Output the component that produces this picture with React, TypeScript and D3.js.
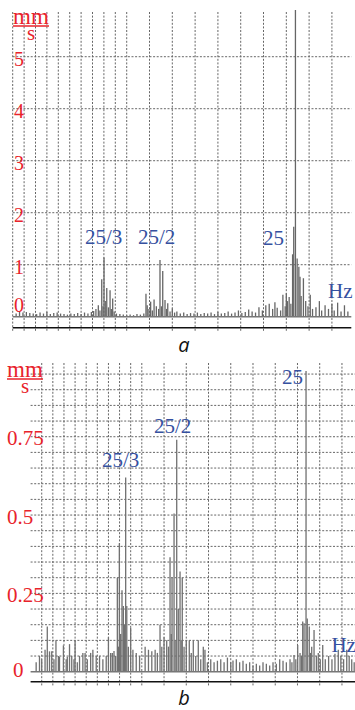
import React, { useEffect, useRef } from "react";
import * as d3 from "d3";

// grid positions in Hz: 1 Hz steps up to 10, then 2 Hz steps
const FINE_GRID = [0, 1, 2, 3, 4, 5, 6, 7, 8, 9, 10];
const COARSE_GRID = [12, 14, 16, 18, 20, 22, 24, 26, 28];

// panel a: amplitude ticks (mm/s)
const A_TICKS = [0, 1, 2, 3, 4, 5];
const A_TICK_LABELS = ["0", "1", "2", "3", "4", "5"];

// panel a spectrum: [Hz, mm/s]
const A_SPECTRUM: [number, number][] = [
  [0.3, 0.06], [0.6, 0.1], [0.9, 0.08], [1.2, 0.09], [1.5, 0.07], [1.8, 0.06],
  [2.1, 0.05], [2.4, 0.08], [2.7, 0.06], [3.0, 0.09], [3.3, 0.05], [3.6, 0.07],
  [3.9, 0.08], [4.2, 0.06], [4.5, 0.05], [4.8, 0.04], [5.1, 0.06], [5.4, 0.05],
  [5.7, 0.07], [6.0, 0.05], [6.3, 0.08], [6.6, 0.06], [6.9, 0.09], [7.1, 0.11],
  [7.3, 0.15], [7.51, 0.22], [7.65, 0.12], [7.81, 0.72], [7.92, 0.2], [8.01, 1.14],
  [8.12, 0.3], [8.25, 0.55], [8.4, 0.18], [8.54, 0.51], [8.65, 0.15], [8.77, 0.35],
  [8.9, 0.1], [9.1, 0.06], [9.4, 0.05], [9.7, 0.04], [10.0, 0.03], [10.3, 0.04],
  [10.6, 0.03], [10.9, 0.05], [11.2, 0.04], [11.5, 0.06], [11.69, 0.44], [11.8, 0.22],
  [11.95, 0.15], [12.1, 0.29], [12.25, 0.12], [12.4, 0.33], [12.6, 0.2], [12.8, 0.15],
  [12.92, 1.09], [13.05, 0.2], [13.16, 0.88], [13.36, 0.32], [13.5, 0.15], [13.6, 0.26],
  [13.8, 0.1], [14.0, 0.16], [14.2, 0.08], [14.4, 0.1], [14.7, 0.06], [15.0, 0.08],
  [15.3, 0.05], [15.6, 0.07], [15.9, 0.06], [16.2, 0.08], [16.5, 0.05], [16.8, 0.07],
  [17.1, 0.06], [17.4, 0.08], [17.7, 0.05], [18.0, 0.09], [18.3, 0.06], [18.6, 0.07],
  [18.9, 0.1], [19.2, 0.06], [19.5, 0.08], [19.8, 0.12], [20.1, 0.07], [20.4, 0.09],
  [20.7, 0.14], [21.0, 0.1], [21.3, 0.08], [21.6, 0.18], [21.9, 0.12], [22.2, 0.22],
  [22.5, 0.25], [22.8, 0.15], [23.0, 0.28], [23.2, 0.17], [23.5, 0.12], [23.7, 0.42],
  [23.9, 0.2], [24.0, 0.45], [24.1, 0.3], [24.25, 0.38], [24.4, 0.25], [24.55, 1.2],
  [24.65, 1.73], [24.8, 5.9], [24.95, 1.12], [25.1, 0.96], [25.2, 0.77], [25.3, 0.4],
  [25.5, 0.74], [25.7, 0.3], [25.9, 0.2], [26.1, 0.42], [26.3, 0.15], [26.6, 0.18],
  [26.9, 0.3], [27.1, 0.12], [27.4, 0.22], [27.7, 0.15], [28.0, 0.25], [28.2, 0.12],
  [28.5, 0.27], [28.8, 0.1], [29.1, 0.22], [29.4, 0.1],
];

// panel b: amplitude ticks and minor grid (mm/s)
const B_TICKS = [0, 0.25, 0.5, 0.75];
const B_TICK_LABELS = ["0", "0.25", "0.5", "0.75"];
const B_GRID = [
  0.05, 0.1, 0.15, 0.2, 0.25, 0.3, 0.35, 0.4, 0.45, 0.5,
  0.55, 0.6, 0.65, 0.7, 0.75, 0.8, 0.85, 0.9, 0.95,
];

// panel b spectrum: [Hz, mm/s]
const B_SPECTRUM: [number, number][] = [
  [0.5, 0.03], [0.8, 0.05], [1.0, 0.04], [1.3, 0.07], [1.5, 0.144], [1.7, 0.065],
  [1.9, 0.065], [2.1, 0.04], [2.28, 0.1], [2.5, 0.05], [2.6, 0.048], [2.95, 0.084],
  [3.2, 0.04], [3.3, 0.048], [3.5, 0.088], [3.7, 0.05], [3.9, 0.04], [4.0, 0.098],
  [4.2, 0.03], [4.4, 0.05], [4.7, 0.06], [4.9, 0.06], [5.1, 0.04], [5.4, 0.06],
  [5.6, 0.07], [5.9, 0.05], [6.2, 0.05], [6.5, 0.04], [6.8, 0.05], [7.0, 0.11],
  [7.2, 0.06], [7.35, 0.06], [7.5, 0.066], [7.65, 0.05], [7.8, 0.3], [7.9, 0.08],
  [7.98, 0.41], [8.1, 0.12], [8.22, 0.26], [8.34, 0.21], [8.45, 0.15], [8.55, 0.62],
  [8.65, 0.21], [8.79, 0.08], [9.0, 0.14], [9.2, 0.07], [9.5, 0.06], [9.8, 0.05],
  [10.3, 0.08], [10.6, 0.07], [10.9, 0.065], [11.2, 0.07], [11.4, 0.06], [11.64, 0.15],
  [11.8, 0.08], [12.0, 0.11], [12.24, 0.1], [12.4, 0.08], [12.54, 0.365], [12.65, 0.12],
  [12.72, 0.3], [12.9, 0.505], [13.0, 0.1], [13.14, 0.74], [13.28, 0.2], [13.44, 0.32],
  [13.54, 0.1], [13.64, 0.3], [13.8, 0.08], [14.0, 0.1], [14.27, 0.1], [14.45, 0.06],
  [14.63, 0.1], [14.85, 0.05], [15.08, 0.1], [15.3, 0.04], [15.53, 0.08], [15.68, 0.07],
  [15.9, 0.03], [16.2, 0.04], [16.5, 0.03], [16.8, 0.035], [17.1, 0.04], [17.4, 0.03],
  [17.7, 0.045], [18.0, 0.03], [18.2, 0.036], [18.5, 0.04], [18.8, 0.03], [19.1, 0.035],
  [19.4, 0.025], [19.7, 0.03], [20.0, 0.02], [20.3, 0.025], [20.6, 0.02], [20.9, 0.03],
  [21.2, 0.025], [21.5, 0.02], [21.8, 0.03], [22.1, 0.025], [22.4, 0.04], [22.7, 0.035],
  [23.0, 0.03], [23.33, 0.04], [23.5, 0.03], [23.69, 0.053], [23.85, 0.04], [24.02, 0.085],
  [24.23, 0.06], [24.35, 0.05], [24.47, 0.16], [24.59, 0.155], [24.77, 0.96], [24.88, 0.17],
  [25.06, 0.144], [25.17, 0.06], [25.28, 0.08], [25.49, 0.133], [25.7, 0.05], [25.87, 0.06],
  [26.05, 0.04], [26.27, 0.085], [26.5, 0.04], [26.8, 0.05], [27.1, 0.04], [27.37, 0.057],
  [27.67, 0.07], [27.9, 0.05], [28.15, 0.04], [28.43, 0.07], [28.65, 0.05], [28.88, 0.04],
  [29.1, 0.03],
];

const RED = "#e8232b";
const BLUE = "#3550a0";
const SERIF = "'Liberation Serif', 'DejaVu Serif', serif";

type Panel = {
  x: d3.ScaleLinear<number, number>;
  y: d3.ScaleLinear<number, number>;
  vGrid: number[];
  hGrid: number[];
  gridTop: number;
  axisY: number;
  data: [number, number][];
  barColor: string;
  notes: [string, number, number][];
};

function drawPanel(svg: d3.Selection<SVGSVGElement, unknown, null, undefined>, p: Panel) {
  const g = svg.append("g");
  const [x0, x1] = p.x.range();

  g.selectAll("line.h")
    .data(p.hGrid)
    .join("line")
    .attr("x1", x0)
    .attr("x2", x1)
    .attr("y1", (d) => p.y(d))
    .attr("y2", (d) => p.y(d))
    .attr("stroke", "#666")
    .attr("stroke-width", 1)
    .attr("stroke-dasharray", "2,1.6");

  g.selectAll("line.v")
    .data(p.vGrid)
    .join("line")
    .attr("x1", (d) => p.x(d))
    .attr("x2", (d) => p.x(d))
    .attr("y1", p.gridTop)
    .attr("y2", p.axisY + 4)
    .attr("stroke", "#666")
    .attr("stroke-width", 1)
    .attr("stroke-dasharray", "2,1.6");

  // spectral lines
  g.selectAll("line.bar")
    .data(p.data)
    .join("line")
    .attr("x1", (d) => p.x(d[0]))
    .attr("x2", (d) => p.x(d[0]))
    .attr("y1", p.y(0))
    .attr("y2", (d) => p.y(d[1]))
    .attr("stroke", p.barColor)
    .attr("stroke-width", 1.3);

  g.append("line")
    .attr("x1", x0)
    .attr("x2", x1)
    .attr("y1", p.y(0))
    .attr("y2", p.y(0))
    .attr("stroke", "#777")
    .attr("stroke-width", 1.5);

  g.append("line")
    .attr("x1", x0)
    .attr("x2", x1)
    .attr("y1", p.axisY)
    .attr("y2", p.axisY)
    .attr("stroke", "#111")
    .attr("stroke-width", 1.6);

  g.selectAll("text.note")
    .data(p.notes)
    .join("text")
    .attr("x", (d) => p.x(d[1]))
    .attr("y", (d) => p.y(d[2]))
    .attr("font-family", SERIF)
    .attr("font-size", 21)
    .attr("fill", BLUE)
    .text((d) => d[0]);
}

function drawUnit(svg: d3.Selection<SVGSVGElement, unknown, null, undefined>, cx: number, top: number) {
  const g = svg.append("g").attr("fill", RED).attr("font-family", SERIF);
  g.append("text").attr("x", cx).attr("y", top + 12).attr("text-anchor", "middle").attr("font-size", 23).text("mm");
  g.append("line")
    .attr("x1", cx - 18)
    .attr("x2", cx + 18)
    .attr("y1", top + 14)
    .attr("y2", top + 14)
    .attr("stroke", RED)
    .attr("stroke-width", 1.3);
  g.append("text").attr("x", cx).attr("y", top + 28).attr("text-anchor", "middle").attr("font-size", 21).text("s");
}

export default function App() {
  const ref = useRef<SVGSVGElement>(null);

  useEffect(() => {
    const svg = d3.select(ref.current!);
    svg.selectAll("*").remove();

    // panel a
    const xa = d3.scaleLinear().domain([0, 29.7]).range([12.7, 351.3]);
    const ya = d3.scaleLinear().domain([0, 5.86]).range([316.7, 12]);
    drawPanel(svg, {
      x: xa,
      y: ya,
      vGrid: FINE_GRID.concat(COARSE_GRID),
      hGrid: A_TICKS.slice(1),
      gridTop: 12,
      axisY: 327.7,
      data: A_SPECTRUM,
      barColor: "#666",
      notes: [
        ["25/3", 6.34, 1.39],
        ["25/2", 10.99, 1.39],
        ["25", 21.96, 1.38],
        ["Hz", 27.66, 0.36],
      ],
    });
    svg.append("g")
      .selectAll("text")
      .data(A_TICKS)
      .join("text")
      .attr("x", 19)
      .attr("y", (d) => ya(d) + (d === 0 ? -5 : 9))
      .attr("text-anchor", "middle")
      .attr("font-family", SERIF)
      .attr("font-size", 20)
      .attr("fill", RED)
      .text((d, i) => A_TICK_LABELS[i]);
    drawUnit(svg, 31, 12);

    // panel b
    const xb = d3.scaleLinear().domain([0, 29.2]).range([30.6, 355.3]);
    const yb = d3.scaleLinear().domain([0, 1]).range([671.7, 358.4]);
    drawPanel(svg, {
      x: xb,
      y: yb,
      vGrid: FINE_GRID.slice(1).concat(COARSE_GRID),
      hGrid: B_GRID,
      gridTop: 363,
      axisY: 681.7,
      data: B_SPECTRUM,
      barColor: "#707070",
      notes: [
        ["25/3", 6.42, 0.653],
        ["25/2", 11.1, 0.762],
        ["25", 22.6, 0.918],
        ["Hz", 27.05, 0.063],
      ],
    });
    svg.append("g")
      .selectAll("text")
      .data(B_TICKS)
      .join("text")
      .attr("x", (d) => (d === 0 ? 13 : 7))
      .attr("y", (d) => yb(d) + (d === 0 ? 5 : 8.5))
      .attr("font-family", SERIF)
      .attr("font-size", 21)
      .attr("fill", RED)
      .text((d, i) => B_TICK_LABELS[i]);
    drawUnit(svg, 25, 365);

    // captions
    svg.selectAll("text.cap")
      .data([["a", 352], ["b", 705]] as [string, number][])
      .join("text")
      .attr("x", 184)
      .attr("y", (d) => d[1])
      .attr("text-anchor", "middle")
      .attr("font-family", "'Open Sans', sans-serif")
      .attr("font-style", "italic")
      .attr("font-size", 20)
      .attr("fill", "#111")
      .text((d) => d[0]);
  }, []);

  return (
    <svg
      ref={ref}
      width={355}
      height={710}
      style={{ position: "absolute", left: 0, top: 0, background: "#fff" }}
    />
  );
}
